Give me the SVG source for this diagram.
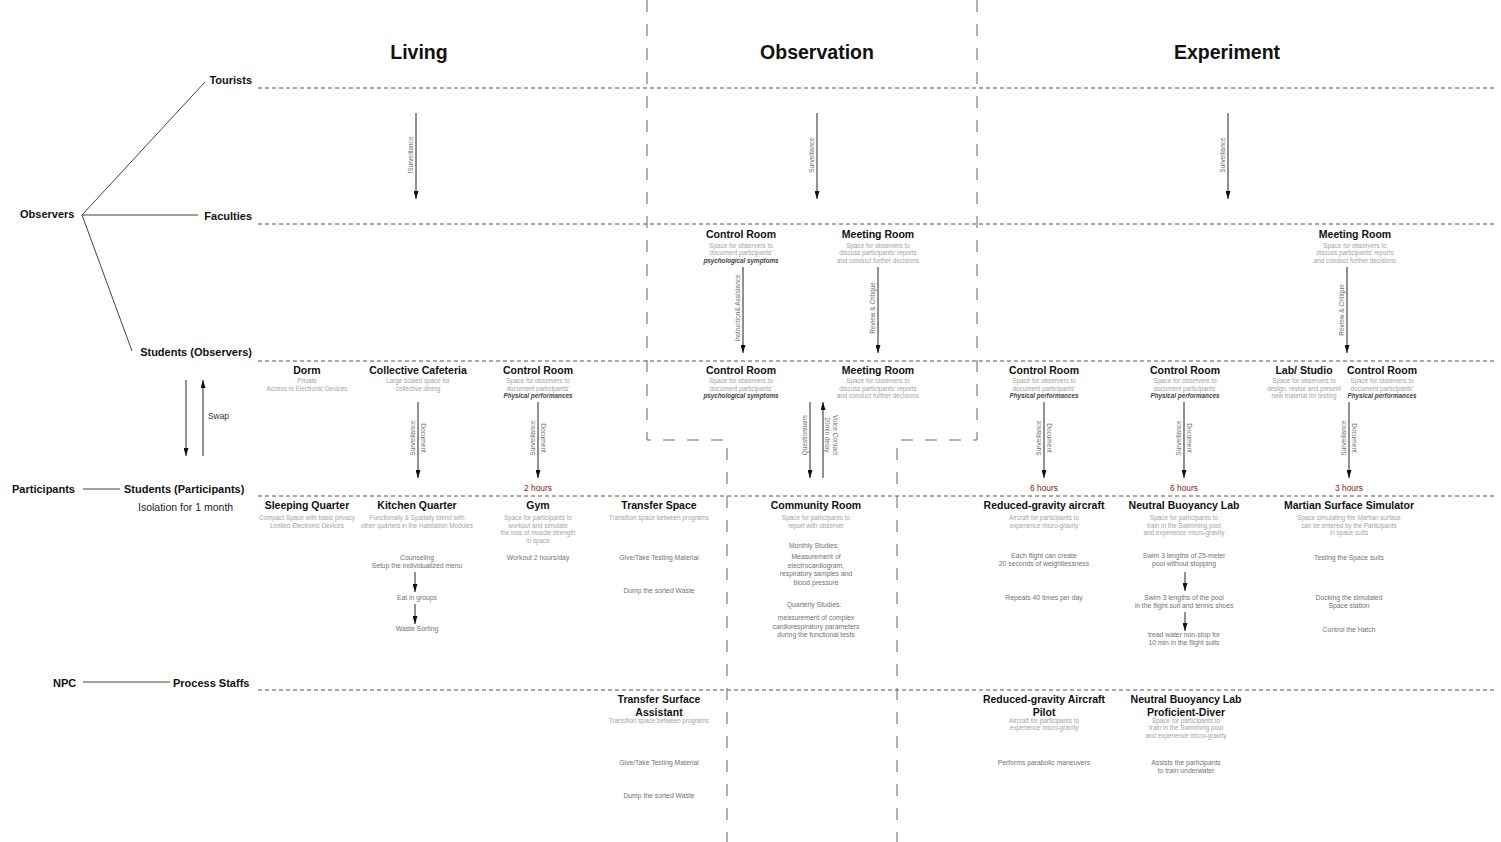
<svg xmlns="http://www.w3.org/2000/svg" width="1501" height="842" viewBox="0 0 1501 842">
<defs>
<marker id="ah" markerWidth="8" markerHeight="5" refX="8" refY="2.5" orient="auto" markerUnits="userSpaceOnUse"><path d="M0,0 L8,2.5 L0,5 z" fill="#111"/></marker>
<style>
text{font-family:"Liberation Sans",Arial,sans-serif}
.h{font-size:19.5px;font-weight:bold;fill:#111;text-anchor:middle}
.lbl{font-size:11px;font-weight:bold;fill:#111}
.r{text-anchor:end}
.t{font-size:10.5px;font-weight:bold;fill:#111;text-anchor:middle}
.s{font-size:6.3px;fill:#a3a3a3;text-anchor:middle}
.si{font-size:6.3px;font-weight:bold;font-style:italic;fill:#444;text-anchor:middle}
.b{font-size:6.8px;fill:#727272;text-anchor:middle}
.v{font-size:6.5px;fill:#6e6e6e;text-anchor:middle}
.red{font-size:8.4px;fill:#8b1c1c;text-anchor:middle}
.dash{stroke:#555;stroke-width:1;stroke-dasharray:4 3;fill:none}
.vdash{stroke:#666;stroke-width:1;stroke-dasharray:12 12;fill:none}
.ln{stroke:#444;stroke-width:1;fill:none}
.arr{stroke:#222;stroke-width:1;fill:none;marker-end:url(#ah)}
</style>
</defs>
<rect width="1501" height="842" fill="#fff"/>

<g id="grid">
<line class="dash" x1="258" y1="88" x2="1497" y2="88"/>
<line class="dash" x1="258" y1="224" x2="1497" y2="224"/>
<line class="dash" x1="258" y1="361" x2="1497" y2="361"/>
<line class="dash" x1="258" y1="496" x2="1497" y2="496"/>
<line class="dash" x1="258" y1="690" x2="1497" y2="690"/>
<path class="vdash" d="M647,0 V440 H727 V842"/>
<path class="vdash" d="M977,0 V440 H897 V842"/>
</g>

<g id="headers">
<text class="h" x="419" y="59">Living</text>
<text class="h" x="817" y="59">Observation</text>
<text class="h" x="1227" y="59">Experiment</text>
</g>

<g id="roles">
<text class="lbl" x="20" y="218">Observers</text>
<text class="lbl r" x="252" y="84">Tourists</text>
<text class="lbl r" x="252" y="220">Faculties</text>
<text class="lbl r" x="252" y="356">Students (Observers)</text>
<text class="lbl" x="12" y="493">Participants</text>
<text class="lbl" x="124" y="493">Students (Participants)</text>
<text x="138" y="511" style="font-size:10.5px;fill:#222">Isolation for 1 month</text>
<text class="lbl" x="53" y="687">NPC</text>
<text class="lbl" x="173" y="687">Process Staffs</text>
<text x="208" y="419" style="font-size:8.4px;fill:#333">Swap</text>
</g>

<g id="connectors">
<line class="ln" x1="82" y1="215" x2="205" y2="82"/>
<line class="ln" x1="82" y1="215" x2="198" y2="215"/>
<line class="ln" x1="82" y1="215" x2="132" y2="351"/>
<line class="ln" x1="83" y1="489" x2="120" y2="489"/>
<line class="ln" x1="83" y1="682" x2="170" y2="682"/>
<line class="arr" x1="186" y1="380" x2="186" y2="456"/>
<line class="arr" x1="203" y1="456" x2="203" y2="380"/>
<line class="arr" x1="416" y1="113" x2="416" y2="199"/>
<line class="arr" x1="817" y1="113" x2="817" y2="199"/>
<line class="arr" x1="1228" y1="113" x2="1228" y2="199"/>
<line class="arr" x1="743" y1="267" x2="743" y2="353"/>
<line class="arr" x1="878" y1="267" x2="878" y2="353"/>
<line class="arr" x1="1347" y1="267" x2="1347" y2="353"/>
<line class="arr" x1="418" y1="402" x2="418" y2="478"/>
<line class="arr" x1="538" y1="402" x2="538" y2="478"/>
<line class="arr" x1="810" y1="402" x2="810" y2="478"/>
<line class="arr" x1="823" y1="478" x2="823" y2="402"/>
<line class="arr" x1="1044" y1="402" x2="1044" y2="478"/>
<line class="arr" x1="1184" y1="402" x2="1184" y2="478"/>
<line class="arr" x1="1349" y1="402" x2="1349" y2="478"/>
<line class="arr" x1="415" y1="572" x2="415" y2="592"/>
<line class="arr" x1="415" y1="604" x2="415" y2="624"/>
<line class="arr" x1="1185" y1="572" x2="1185" y2="591"/>
<line class="arr" x1="1185" y1="612" x2="1185" y2="631"/>
<text class="v" transform="translate(413,155) rotate(-90)">!Surveillance</text>
<text class="v" transform="translate(814,155) rotate(-90)">Surveillance</text>
<text class="v" transform="translate(1225,155) rotate(-90)">Surveillance</text>
<text class="v" transform="translate(740,308) rotate(-90)">Instruction&amp; Assistance</text>
<text class="v" transform="translate(875,308) rotate(-90)">Review &amp; Critique</text>
<text class="v" transform="translate(1344,310) rotate(-90)">Review &amp; Critique</text>
<text class="v" transform="translate(415,438) rotate(-90)">Surveillance</text>
<text class="v" transform="translate(421,438) rotate(90)">Document</text>
<text class="v" transform="translate(535,438) rotate(-90)">Surveillance</text>
<text class="v" transform="translate(541,438) rotate(90)">Document</text>
<text class="v" transform="translate(807,435) rotate(-90)">Questionnaire</text>
<text class="v" transform="translate(833,435) rotate(90)">Voice Contact</text>
<text class="v" transform="translate(825,435) rotate(90)">20min delay</text>
<text class="v" transform="translate(1041,438) rotate(-90)">Surveillance</text>
<text class="v" transform="translate(1047,438) rotate(90)">Document</text>
<text class="v" transform="translate(1181,438) rotate(-90)">Surveillance</text>
<text class="v" transform="translate(1187,438) rotate(90)">Document</text>
<text class="v" transform="translate(1346,438) rotate(-90)">Surveillance</text>
<text class="v" transform="translate(1352,438) rotate(90)">Document</text>
<text class="red" x="538" y="491">2 hours</text>
<text class="red" x="1044" y="491">6 hours</text>
<text class="red" x="1184" y="491">6 hours</text>
<text class="red" x="1349" y="491">3 hours</text>
</g>

<g id="fac-control-room">
<text class="t" x="741" y="238">Control Room</text>
<text class="s" x="741" y="247.5">Space for observers to</text>
<text class="s" x="741" y="255">document participants'</text>
<text class="si" x="741" y="262.5">psychological symptoms</text>
</g>
<g id="fac-meeting-room">
<text class="t" x="878" y="238">Meeting Room</text>
<text class="s" x="878" y="247.5">Space for observers to</text>
<text class="s" x="878" y="255">discuss participants' reports</text>
<text class="s" x="878" y="262.5">and conduct further decisions</text>
</g>
<g id="fac-meeting-room-exp">
<text class="t" x="1355" y="238">Meeting Room</text>
<text class="s" x="1355" y="247.5">Space for observers to</text>
<text class="s" x="1355" y="255">discuss participants' reports</text>
<text class="s" x="1355" y="262.5">and conduct further decisions</text>
</g>

<g id="so-dorm">
<text class="t" x="307" y="374">Dorm</text>
<text class="s" x="307" y="383">Private</text>
<text class="s" x="307" y="390.5">Access to Electronic Devices</text>
</g>
<g id="so-cafeteria">
<text class="t" x="418" y="374">Collective Cafeteria</text>
<text class="s" x="418" y="383">Large scaled space for</text>
<text class="s" x="418" y="390.5">collective dining</text>
</g>
<g id="so-control-living">
<text class="t" x="538" y="374">Control Room</text>
<text class="s" x="538" y="383">Space for observers to</text>
<text class="s" x="538" y="390.5">document participants'</text>
<text class="si" x="538" y="398">Physical performances</text>
</g>
<g id="so-control-obs">
<text class="t" x="741" y="374">Control Room</text>
<text class="s" x="741" y="383">Space for observers to</text>
<text class="s" x="741" y="390.5">document participants'</text>
<text class="si" x="741" y="398">psychological symptoms</text>
</g>
<g id="so-meeting-obs">
<text class="t" x="878" y="374">Meeting Room</text>
<text class="s" x="878" y="383">Space for observers to</text>
<text class="s" x="878" y="390.5">discuss participants' reports</text>
<text class="s" x="878" y="398">and conduct further decisions</text>
</g>
<g id="so-control-exp1">
<text class="t" x="1044" y="374">Control Room</text>
<text class="s" x="1044" y="383">Space for observers to</text>
<text class="s" x="1044" y="390.5">document participants'</text>
<text class="si" x="1044" y="398">Physical performances</text>
</g>
<g id="so-control-exp2">
<text class="t" x="1185" y="374">Control Room</text>
<text class="s" x="1185" y="383">Space for observers to</text>
<text class="s" x="1185" y="390.5">document participants'</text>
<text class="si" x="1185" y="398">Physical performances</text>
</g>
<g id="so-lab-studio">
<text class="t" x="1304" y="374">Lab/ Studio</text>
<text class="s" x="1304" y="383">Space for observers to</text>
<text class="s" x="1304" y="390.5">design, revise and present</text>
<text class="s" x="1304" y="398">new material for testing</text>
</g>
<g id="so-control-exp3">
<text class="t" x="1382" y="374">Control Room</text>
<text class="s" x="1382" y="383">Space for observers to</text>
<text class="s" x="1382" y="390.5">document participants'</text>
<text class="si" x="1382" y="398">Physical performances</text>
</g>

<g id="p-sleeping">
<text class="t" x="307" y="509">Sleeping Quarter</text>
<text class="s" x="307" y="520">Compact Space with basic privacy</text>
<text class="s" x="307" y="527.5">Limited Electronic Devices</text>
</g>
<g id="p-kitchen">
<text class="t" x="417" y="509">Kitchen Quarter</text>
<text class="s" x="417" y="520">Functionally &amp; Spatially blend with</text>
<text class="s" x="417" y="527.5">other quarters in the Habitation Modules</text>
<text class="b" x="417" y="559.5">Counseling</text>
<text class="b" x="417" y="568">Setup the individualized menu</text>
<text class="b" x="417" y="599.5">Eat in groups</text>
<text class="b" x="417" y="630.5">Waste Sorting</text>
</g>
<g id="p-gym">
<text class="t" x="538" y="509">Gym</text>
<text class="s" x="538" y="520">Space for participants to</text>
<text class="s" x="538" y="527.5">workout and simulate</text>
<text class="s" x="538" y="535">the loss of muscle strength</text>
<text class="s" x="538" y="542.5">in space</text>
<text class="b" x="538" y="559.5">Workout 2 hours/day</text>
</g>
<g id="p-transfer">
<text class="t" x="659" y="509">Transfer Space</text>
<text class="s" x="659" y="520">Transition space between programs</text>
<text class="b" x="659" y="559.5">Give/Take Testing Material</text>
<text class="b" x="659" y="592.5">Dump the sorted Waste</text>
</g>
<g id="p-community">
<text class="t" x="816" y="509">Community Room</text>
<text class="s" x="816" y="520">Space for participants to</text>
<text class="s" x="816" y="527.5">report with observer</text>
<text class="b" x="814" y="548">Monthly Studies:</text>
<text class="b" x="816" y="559">Measurement of</text>
<text class="b" x="816" y="567.5">electrocardiogram,</text>
<text class="b" x="816" y="576">respiratory samples and</text>
<text class="b" x="816" y="584.5">blood pressure</text>
<text class="b" x="814" y="607">Quarterly Studies:</text>
<text class="b" x="816" y="620">measurement of complex</text>
<text class="b" x="816" y="628.5">cardiorespiratory parameters</text>
<text class="b" x="816" y="637">during the functional tests</text>
</g>
<g id="p-aircraft">
<text class="t" x="1044" y="509">Reduced-gravity aircraft</text>
<text class="s" x="1044" y="520">Aircraft for participants to</text>
<text class="s" x="1044" y="527.5">experience micro-gravity</text>
<text class="b" x="1044" y="557.5">Each flight can create</text>
<text class="b" x="1044" y="565.5">20 seconds of weightlessness</text>
<text class="b" x="1044" y="599.5">Repeats 40 times per day</text>
</g>
<g id="p-buoyancy">
<text class="t" x="1184" y="509">Neutral Buoyancy Lab</text>
<text class="s" x="1184" y="520">Space for participants to</text>
<text class="s" x="1184" y="527.5">train in the Swimming pool</text>
<text class="s" x="1184" y="535">and experience micro-gravity</text>
<text class="b" x="1184" y="557.5">Swim 3 lengths of 25-meter</text>
<text class="b" x="1184" y="565.5">pool without stopping</text>
<text class="b" x="1184" y="599.5">Swim 3 lengths of the pool</text>
<text class="b" x="1184" y="607.5">in the flight suit and tennis shoes</text>
<text class="b" x="1184" y="636.5">tread water non-stop for</text>
<text class="b" x="1184" y="644.5">10 min in the flight suits</text>
</g>
<g id="p-martian">
<text class="t" x="1349" y="509">Martian Surface Simulator</text>
<text class="s" x="1349" y="520">Space simulating the Martian surface</text>
<text class="s" x="1349" y="527.5">can be entered by the Participants</text>
<text class="s" x="1349" y="535">in space suits</text>
<text class="b" x="1349" y="559.5">Testing the Space suits</text>
<text class="b" x="1349" y="599.5">Docking the simulated</text>
<text class="b" x="1349" y="607.5">Space station</text>
<text class="b" x="1349" y="631.5">Control the Hatch</text>
</g>

<g id="npc-transfer">
<text class="t" x="659" y="703">Transfer Surface</text>
<text class="t" x="659" y="716">Assistant</text>
<text class="s" x="659" y="723">Transition space between programs</text>
<text class="b" x="659" y="764.5">Give/Take Testing Material</text>
<text class="b" x="659" y="797.5">Dump the sorted Waste</text>
</g>
<g id="npc-pilot">
<text class="t" x="1044" y="703">Reduced-gravity Aircraft</text>
<text class="t" x="1044" y="716">Pilot</text>
<text class="s" x="1044" y="722.5">Aircraft for participants to</text>
<text class="s" x="1044" y="730">experience micro-gravity</text>
<text class="b" x="1044" y="764.5">Performs parabolic maneuvers</text>
</g>
<g id="npc-diver">
<text class="t" x="1186" y="703">Neutral Buoyancy Lab</text>
<text class="t" x="1186" y="716">Proficient-Diver</text>
<text class="s" x="1186" y="722.5">Space for participants to</text>
<text class="s" x="1186" y="730">train in the Swimming pool</text>
<text class="s" x="1186" y="737.5">and experience micro-gravity</text>
<text class="b" x="1186" y="764.5">Assists the participants</text>
<text class="b" x="1186" y="773">to train underwater</text>
</g>
</svg>
